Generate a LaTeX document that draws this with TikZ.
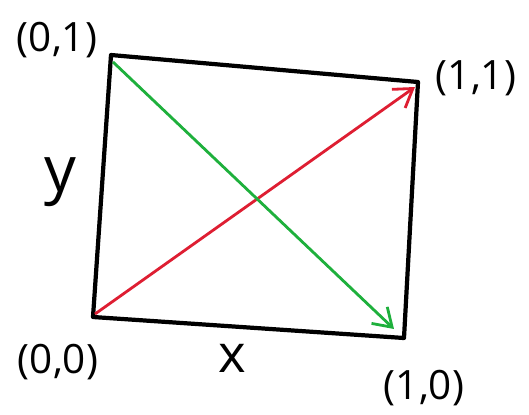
\documentclass[tikz,border=0pt]{standalone}
\usepackage{fontspec}
\setsansfont{Open Sans}
\usetikzlibrary{arrows.meta}
\definecolor{penred}{RGB}{222,30,50}
\definecolor{pengreen}{RGB}{30,176,60}
\tikzset{
  edge/.style={line width=2.4pt,line join=round,line cap=round},
  diag/.style={line width=1.6pt,-{Straight Barb[length=10pt,width=13pt,line width=1.6pt]}},
  lbl/.style={font=\sffamily\fontsize{23}{26}\selectfont}
}

\begin{document}
\begin{tikzpicture}[x=0.02cm,y=-0.02cm]
  \useasboundingbox (0,0) rectangle (529,414);
  % corners of the square
  \coordinate (tl) at (111,55);
  \coordinate (tr) at (418,82);
  \coordinate (br) at (404,338);
  \coordinate (bl) at (93,317);
  \draw[edge] (tl) -- (tr) -- (br) -- (bl) -- cycle;
  % diagonals
  \coordinate (rs) at (95,314);
  \coordinate (re) at (415,87);
  \coordinate (gs) at (113,62);
  \coordinate (ge) at (394,329);
  \draw[diag,penred] (rs) -- (re);
  \draw[diag,pengreen] (gs) -- (ge);
  % labels
  \node[lbl] (l01) at (57,40) {(0,1)};
  \node[lbl] (l11) at (476,78) {(1,1)};
  \node[lbl] (l00) at (58,362) {(0,0)};
  \node[lbl] (l10) at (424,388) {(1,0)};
  \node[lbl,font=\sffamily\fontsize{36}{40}\selectfont] (ly) at (60,182) {y};
  \node[lbl,font=\sffamily\fontsize{30}{34}\selectfont] (lx) at (232,358) {x};
\end{tikzpicture}
\end{document}
